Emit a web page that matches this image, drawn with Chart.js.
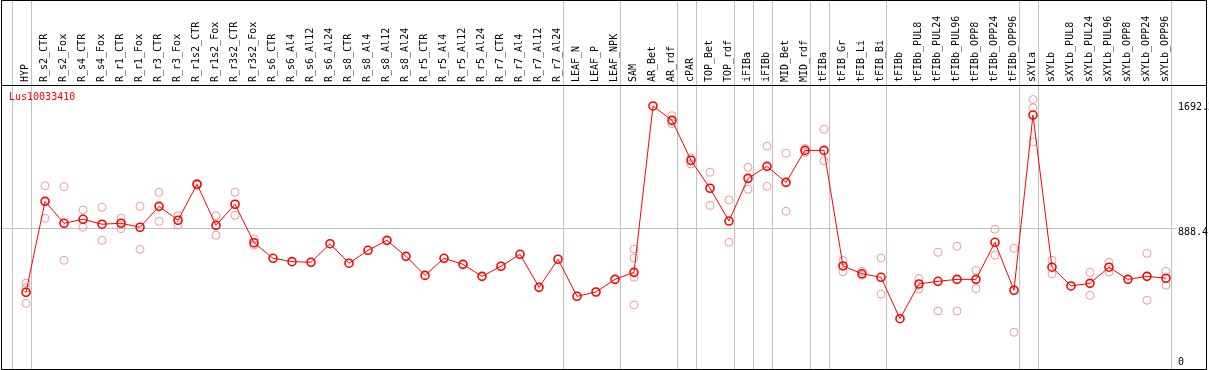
<!DOCTYPE html>
<html>
<head>
<meta charset="utf-8">
<script src="https://cdn.jsdelivr.net/npm/chart.js@4"></script>
<style>
html, body { margin: 0; padding: 0; background: #fff; }
#wrap { width: 1209px; height: 370px; }
</style>
</head>
<body>
<div id="wrap"><canvas id="chart" width="1209" height="370"></canvas></div>
<script>
var geneName = "Lus10033410";

var samples = ["HYP", "R_s2_CTR", "R_s2_Fox", "R_s4_CTR", "R_s4_Fox", "R_r1_CTR", "R_r1_Fox",
    "R_r3_CTR", "R_r3_Fox", "R_r1s2_CTR", "R_r1s2_Fox", "R_r3s2_CTR", "R_r3s2_Fox",
    "R_s6_CTR", "R_s6_Al4", "R_s6_Al12", "R_s6_Al24", "R_s8_CTR", "R_s8_Al4", "R_s8_Al12", "R_s8_Al24",
    "R_r5_CTR", "R_r5_Al4", "R_r5_Al12", "R_r5_Al24", "R_r7_CTR", "R_r7_Al4", "R_r7_Al12", "R_r7_Al24",
    "LEAF_N", "LEAF_P", "LEAF_NPK", "SAM", "AR_Bet", "AR_rdf", "cPAR", "TOP_Bet", "TOP_rdf",
    "iFIBa", "iFIBb", "MID_Bet", "MID_rdf", "tFIBa", "tFIB_Gr", "tFIB_Li", "tFIB_Bi", "tFIBb",
    "tFIBb_PUL8", "tFIBb_PUL24", "tFIBb_PUL96", "tFIBb_OPP8", "tFIBb_OPP24", "tFIBb_OPP96",
    "sXYLa", "sXYLb", "sXYLb_PUL8", "sXYLb_PUL24", "sXYLb_PUL96", "sXYLb_OPP8", "sXYLb_OPP24", "sXYLb_OPP96"];

// mean expression per sample (the connected red line)
var means = [486, 1055, 918, 943, 912, 918, 893, 1024, 937, 1162, 905, 1037, 796,
    699, 678, 674, 790, 668, 749, 811, 711, 592, 699, 661, 586, 649, 724, 517, 693,
    461, 488, 567, 611, 1652, 1562, 1312, 1137, 932, 1199, 1274, 1174, 1374, 1374,
    651, 602, 580, 321, 538, 555, 567, 567, 799, 499, 1595, 643, 526, 542, 643, 567, 586, 574];

// single replicates (pink circles)
var rep1 = [544, 1153, 1147, 1001, 1018, 951, 1024, 1112, 965, 1167, 965, 1112, 820,
    null, null, null, null, null, null, null, null, null, null, null, null, null, null, null, null, null, null, null,
    757, null, 1591, 1328, 1237, 1064, 1268, 1400, 1356, 1386, 1506, 684, 617, 701, null,
    571, 736, 774, 624, 880, 761, 1692.2, 686, null, 611, 674, null, 730, 617];
var rep2 = [513, 949, 686, 893, 811, 884, 755, 930, 907, 1157, 843, 968, 782,
    null, null, null, null, null, null, null, null, null, null, null, null, null, null, null, null, null, null, null,
    701, null, 1541, 1289, 1030, 799, 1131, 1149, 993, 1362, 1309, 615, 592, 474, null,
    507, 369, 369, 509, 718, 236, 1641, 602, null, 467, 613, null, 436, 530];
var rep3 = [417, null, null, null, null, null, null, null, null, null, null, null, null,
    null, null, null, null, null, null, null, null, null, null, null, null, null, null, null, null, null, null, null,
    580, null, null, null, null, null, null, null, null, null, null, null, null, null, null,
    null, null, null, null, null, null, 1428, null, null, null, null, null, null, null];
var rep4 = [null, null, null, null, null, null, null, null, null, null, null, null, null,
    null, null, null, null, null, null, null, null, null, null, null, null, null, null, null, null, null, null, null,
    407, null, null, null, null, null, null, null, null, null, null, null, null, null, null,
    null, null, null, null, null, null, null, null, null, null, null, null, null, null];

// index of the last sample in each group (-1 = before the first one)
var groupEnds = [-1, 0, 28, 31, 34, 35, 37, 38, 39, 41, 42, 45, 52, 53, 60];

var yTicks = [0, 888.4, 1692.2];
var yTickLabels = ["0", "888.4", "1692.2"];
var yMax = 1776.8;

var FONT = "DejaVu Sans Mono";

function toPoints(arr) {
    var out = [];
    arr.forEach(function (v, i) {
        if (v !== null) out.push({x: i, y: v});
    });
    return out;
}

function repSet(arr) {
    return {
        type: 'scatter',
        data: toPoints(arr),
        showLine: false,
        pointRadius: 4,
        pointBorderWidth: 1,
        pointBorderColor: '#ee9999',
        pointBackgroundColor: 'rgba(0,0,0,0)',
        order: 2
    };
}

var framePlugin = {
    id: 'frame',
    beforeDatasetsDraw: function (chart) {
        var ctx = chart.ctx;
        var xs = chart.scales.x;
        ctx.save();
        ctx.strokeStyle = '#c0c0c0';
        ctx.lineWidth = 1;
        groupEnds.forEach(function (g) {
            var px = Math.round(xs.getPixelForValue(g + 0.25)) + 0.5;
            ctx.beginPath();
            ctx.moveTo(px, 0);
            ctx.lineTo(px, chart.height);
            ctx.stroke();
        });
        ctx.restore();
    },
    afterDraw: function (chart) {
        var ctx = chart.ctx;
        var area = chart.chartArea;
        var ys = chart.scales.y;
        ctx.save();
        ctx.strokeStyle = '#000';
        ctx.lineWidth = 1;
        ctx.strokeRect(1.5, 0.5, 1205, 369);
        ctx.beginPath();
        ctx.moveTo(1, Math.round(area.top) - 0.5);
        ctx.lineTo(1207, Math.round(area.top) - 0.5);
        ctx.stroke();

        ctx.font = '10px "' + FONT + '"';
        ctx.textBaseline = 'middle';
        ctx.fillStyle = '#ff0000';
        ctx.fillText(geneName, 9, area.top + 11);

        // value labels on the right, each nudged the way the original places them
        var nudge = [-8, 4, 7.5];
        ctx.fillStyle = '#000';
        yTicks.forEach(function (v, i) {
            ctx.fillText(yTickLabels[i], area.right + 5, ys.getPixelForValue(v) + nudge[i]);
        });
        ctx.restore();
    }
};

var config = {
    type: 'line',
    data: {
        datasets: [{
            data: toPoints(means),
            borderColor: '#ff0000',
            borderWidth: 1,
            tension: 0,
            pointRadius: 4,
            pointBorderWidth: 1.6,
            pointBorderColor: '#ff0000',
            pointBackgroundColor: 'rgba(0,0,0,0)',
            order: 1
        }, repSet(rep1), repSet(rep2), repSet(rep3), repSet(rep4)]
    },
    options: {
        responsive: false,
        animation: false,
        devicePixelRatio: 1,
        layout: { padding: 0, autoPadding: false },
        plugins: {
            legend: { display: false },
            tooltip: { enabled: false },
            title: { display: false }
        },
        scales: {
            x: {
                type: 'linear',
                position: 'top',
                min: -1.37,
                max: 60.37,
                afterBuildTicks: function (scale) {
                    scale.ticks = samples.map(function (s, i) { return {value: i}; });
                },
                afterFit: function (scale) {
                    scale.height = 86;
                    scale.paddingLeft = 0;
                    scale.paddingRight = 0;
                },
                grid: { display: false, drawTicks: false },
                border: { display: false },
                ticks: {
                    autoSkip: false,
                    minRotation: 90,
                    maxRotation: 90,
                    padding: 4,
                    labelOffset: 11,
                    color: '#000',
                    font: { family: FONT, size: 10 },
                    callback: function (v) { return samples[v]; }
                }
            },
            y: {
                type: 'linear',
                position: 'right',
                min: 0,
                max: yMax,
                afterBuildTicks: function (scale) {
                    scale.ticks = yTicks.map(function (v) { return {value: v}; });
                },
                afterFit: function (scale) {
                    scale.width = 36;
                    scale.paddingTop = 0;
                    scale.paddingBottom = 0;
                },
                border: { display: false },
                grid: {
                    color: function (c) { return c.tick && c.tick.value === 888.4 ? '#c0c0c0' : 'rgba(0,0,0,0)'; },
                    tickColor: function (c) { return c.tick && c.tick.value === 888.4 ? '#c0c0c0' : 'rgba(0,0,0,0)'; },
                    tickLength: 4,
                    lineWidth: 1
                },
                ticks: { display: false }
            }
        }
    },
    plugins: [framePlugin]
};

var ctx = document.getElementById("chart");
window.myChart = new Chart(ctx, config);
</script>
</body>
</html>
